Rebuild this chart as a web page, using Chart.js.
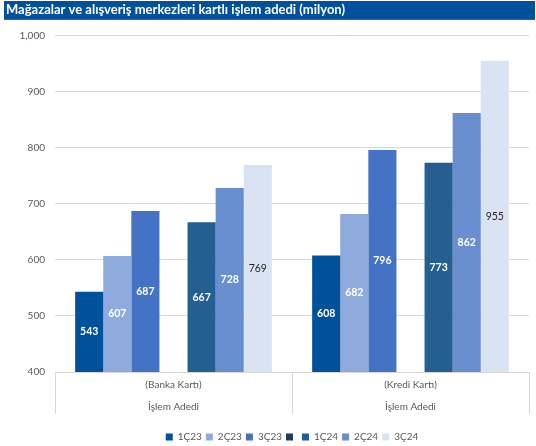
<!DOCTYPE html>
<html>
<head>
<meta charset="utf-8">
<script src="https://cdn.jsdelivr.net/npm/chart.js@4.4.0/dist/chart.umd.min.js"></script>
<style>
  html, body { margin: 0; padding: 0; background: #ffffff; }
  #wrap { position: relative; width: 536px; height: 446px; }
</style>
</head>
<body>
<div id="wrap"><canvas id="c" width="536" height="446"></canvas></div>
<script>
// ---- data ----
const titleText = "Mağazalar ve alışveriş merkezleri kartlı işlem adedi (milyon)";
const categories = [["(Banka Kartı)", "İşlem Adedi"], ["(Kredi Kartı)", "İşlem Adedi"]];
const seriesNames = ["1Ç23", "2Ç23", "3Ç23", "", "1Ç24", "2Ç24", "3Ç24"];
const s1Q23 = [543, 608];
const s2Q23 = [607, 682];
const s3Q23 = [687, 796];
const sBlank = [null, null];
const s1Q24 = [667, 773];
const s2Q24 = [728, 862];
const s3Q24 = [769, 955];
const yTicks = [400, 500, 600, 700, 800, 900, 1000];

const seriesValues = [s1Q23, s2Q23, s3Q23, sBlank, s1Q24, s2Q24, s3Q24];
const colors = ["#00519B", "#8FAADC", "#4472C4", "#203864", "#255E91", "#698ED0", "#DAE3F3"];
const labelColors = ["#ffffff", "#ffffff", "#ffffff", "#ffffff", "#ffffff", "#ffffff", "#262626"];

const FONT = "Lato, 'Open Sans', sans-serif";

const titleBg = {
  id: 'titleBg',
  beforeDraw(chart) {
    const ctx = chart.ctx;
    ctx.save();
    ctx.fillStyle = "#00519B";
    ctx.fillRect(4, 1, 531, 18);
    ctx.fillStyle = "#2a6aa8";
    ctx.fillRect(4, 19, 531, 1);
    ctx.restore();
  }
};

// center the legend under the plot area and place it below the category axis
const legendPlace = {
  id: 'legendPlace',
  afterLayout(chart) {
    const lg = chart.legend, ca = chart.chartArea, xs = chart.scales.x;
    if (!lg) return;
    const dx = (ca.left + ca.right) / 2 - (lg.left + lg.right) / 2;
    lg.left += dx; lg.right += dx;
    const dy = (xs.bottom + 14) - lg.top;
    lg.top += dy; lg.bottom += dy;
  }
};

const valueLabels = {
  id: 'valueLabels',
  afterDatasetsDraw(chart) {
    const ctx = chart.ctx;
    const bottom = chart.chartArea.bottom;
    ctx.save();
    ctx.textAlign = 'center';
    ctx.textBaseline = 'middle';
    chart.data.datasets.forEach((ds, di) => {
      const meta = chart.getDatasetMeta(di);
      meta.data.forEach((el, i) => {
        const v = ds.data[i];
        if (v == null) return;
        const cy = (el.y + Math.min(el.base, bottom)) / 2;
        ctx.fillStyle = labelColors[di];
        ctx.font = (di === 6 ? "normal " : "bold ") + "10.5px " + FONT;
        ctx.fillText(String(v), el.x, cy);
      });
    });
    ctx.restore();
  }
};

new Chart(document.getElementById('c'), {
  type: 'bar',
  data: {
    labels: categories,
    datasets: seriesValues.map((vals, i) => ({
      label: seriesNames[i],
      data: vals,
      backgroundColor: colors[i],
      borderWidth: 0,
      categoryPercentage: 0.83,
      barPercentage: 1.0
    }))
  },
  options: {
    responsive: false,
    animation: false,
    layout: { padding: { left: 6, right: 7, top: 0, bottom: 8 } },
    plugins: {
      title: {
        display: true,
        text: titleText,
        align: 'start',
        color: '#ffffff',
        font: { family: FONT, size: 13, weight: 'bold' },
        padding: { top: 2, bottom: 18 }
      },
      legend: {
        display: true,
        position: 'bottom',
        labels: {
          boxWidth: 7,
          boxHeight: 7,
          padding: 4,
          color: '#595959',
          font: { family: FONT, size: 10 }
        }
      },
      tooltip: { enabled: false }
    },
    scales: {
      x: {
        offset: true,
        grid: {
          display: true,
          offset: true,
          drawOnChartArea: false,
          drawTicks: true,
          tickLength: 42,
          color: '#D9D9D9'
        },
        border: { display: true, color: '#D9D9D9' },
        ticks: {
          color: '#595959',
          font: { family: FONT, size: 10, lineHeight: 2.2 },
          padding: -40,
          maxRotation: 0
        },
        afterFit(scale) { scale.height = 42; }
      },
      y: {
        min: 400,
        max: 1000,
        afterBuildTicks(scale) { scale.ticks = yTicks.map(v => ({ value: v })); },
        grid: { color: '#D9D9D9', drawTicks: false },
        border: { display: false },
        ticks: {
          color: '#595959',
          font: { family: FONT, size: 10 },
          padding: 10
        },
        afterFit(scale) { scale.width = 49; }
      }
    }
  },
  plugins: [titleBg, legendPlace, valueLabels]
});
</script>
</body>
</html>
